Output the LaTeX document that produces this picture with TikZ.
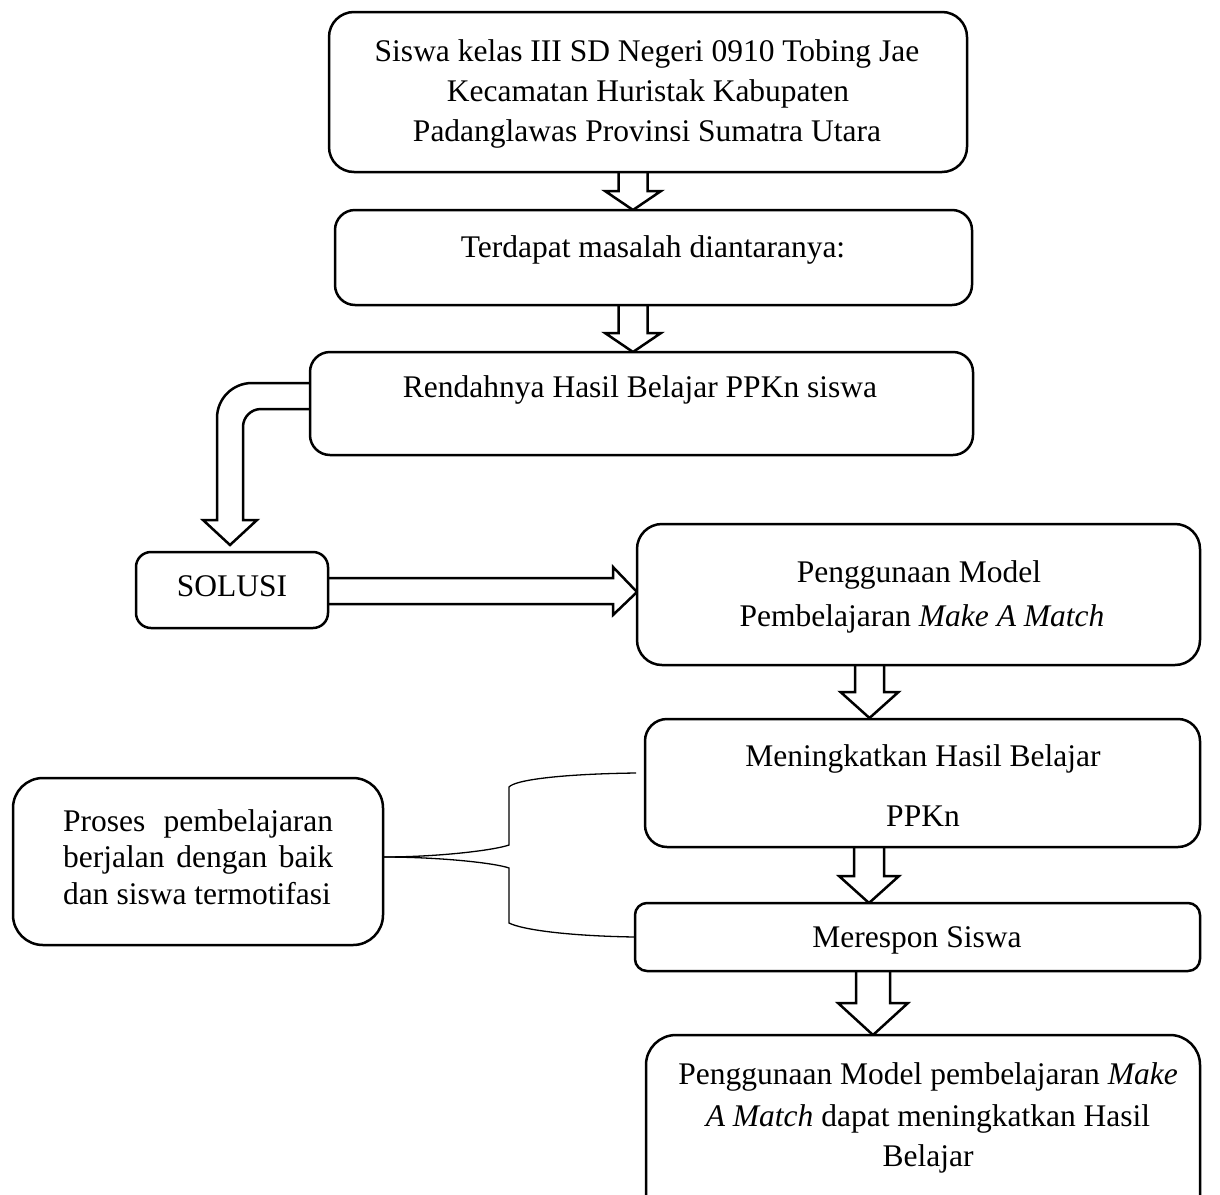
\documentclass[tikz,border=0pt]{standalone}
\usepackage{fontspec}
\setmainfont{Liberation Serif}
\newcommand{\blkdown}[6]{%
  \draw[blk] (#1-#5,#2) -- (#1-#5,#3) -- (#1-#6,#3) -- (#1,#4) -- (#1+#6,#3) -- (#1+#5,#3) -- (#1+#5,#2);}
\begin{document}
\begin{tikzpicture}[x=1pt,y=-1pt,
  box/.style={draw, line width=2.5pt, rounded corners=#1, fill=white, inner sep=0pt},
  box/.default=22,
  blk/.style={draw, line width=2.5pt, fill=white, line join=miter},
  txt/.style={font=\fontsize{31.5}{40}\selectfont, inner sep=0pt, anchor=base},
  brace/.style={draw, line width=1.3pt}]
\useasboundingbox (0,0) rectangle (1220,1194);
\clip (0,0) rectangle (1220,1194);

% block arrows
\blkdown{633}{172}{191}{210}{14.5}{28}
\blkdown{633}{305}{333}{352}{14.5}{28}
\blkdown{869.5}{665}{692}{718}{14.5}{29}
\blkdown{869}{847}{876}{903}{15}{30}
\blkdown{873}{971}{1003}{1035}{17}{35}
\draw[blk] (310,383) {[rounded corners=35] -- (217,383) -- (217,470)} -- (217,520) -- (203,520) -- (230,545) -- (257,520) -- (243,520) {[rounded corners=18] -- (243,409) -- (280,409)} -- (310,409);
\draw[blk] (328,578) -- (613,578) -- (613,567) -- (637,592) -- (613,615) -- (613,604) -- (328,604);

% boxes
\node[box=25, minimum width=638pt, minimum height=160pt] (b1) at (648,92) {};
\node[box=20, minimum width=637pt, minimum height=95pt] (b2) at (653.5,257.5) {};
\node[box=20, minimum width=663pt, minimum height=103pt] (b3) at (641.5,403.5) {};
\node[box=15, minimum width=192pt, minimum height=76pt] (bs) at (232,590) {};
\node[box=25, minimum width=563pt, minimum height=141pt] (bp) at (918.5,594.5) {};
\node[box=22, minimum width=555pt, minimum height=128pt] (bm) at (922.5,783) {};
\node[box=12, minimum width=565pt, minimum height=68pt] (br) at (917.5,937) {};
\node[box=30, minimum width=554pt, minimum height=195pt] (bf) at (923,1132.5) {};
\node[box=30, minimum width=370pt, minimum height=167pt] (bl) at (198,861.5) {};

% brace connector
\draw[brace] (383,857) .. controls (440,857) and (495,850) .. (509,845) -- (509,787) .. controls (515,780) and (560,774) .. (636,773);
\draw[brace] (383,857) .. controls (440,857) and (495,863) .. (509,868) -- (509,923) .. controls (523,930) and (570,936) .. (635,937);

% texts
\node[txt] (t1a) at (647,61) {Siswa kelas III SD Negeri 0910 Tobing Jae};
\node[txt] (t1b) at (648,101) {Kecamatan Huristak Kabupaten};
\node[txt] (t1c) at (647,141) {Padanglawas Provinsi Sumatra Utara};
\node[txt] (t2) at (653,257) {Terdapat masalah diantaranya:};
\node[txt] (t3) at (640,397) {Rendahnya Hasil Belajar PPKn siswa};
\node[txt] (ts) at (232,596) {SOLUSI};
\node[txt] (tpa) at (919,582) {Penggunaan Model};
\node[txt] (tpb) at (922,626) {Pembelajaran \textit{Make A Match}};
\node[txt] (tma) at (923,766) {Meningkatkan Hasil Belajar};
\node[txt] (tmb) at (923,826) {PPKn};
\node[txt] (tr) at (917,947) {Merespon Siswa};
\node[txt] (tfa) at (928,1084) {Penggunaan Model pembelajaran \textit{Make}};
\node[txt] (tfb) at (928,1126) {\textit{A Match} dapat meningkatkan Hasil};
\node[txt] (tfc) at (928,1166) {Belajar};
\node[txt, anchor=base west] (tla) at (63,831) {\makebox[270pt][s]{Proses pembelajaran}};
\node[txt, anchor=base west] (tlb) at (63,867) {\makebox[270pt][s]{berjalan dengan baik}};
\node[txt, anchor=base west] (tlc) at (63,904) {dan siswa termotifasi};
\end{tikzpicture}
\end{document}
